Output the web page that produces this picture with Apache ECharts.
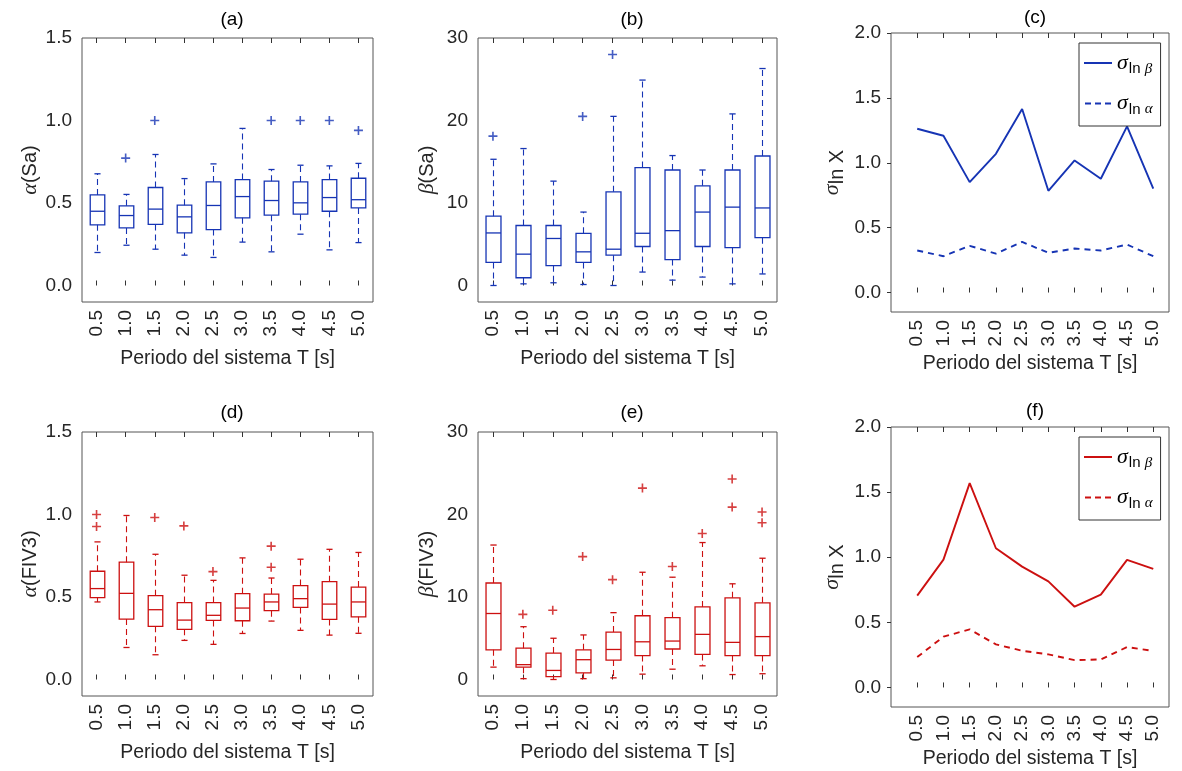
<!DOCTYPE html>
<html>
<head>
<meta charset="utf-8">
<script src="https://cdn.jsdelivr.net/npm/echarts@6/dist/echarts.min.js"></script>
<style>html,body{margin:0;padding:0;background:#fff}#c{width:1182px;height:771px}</style>
</head>
<body>
<div id="c"></div>
<script>
// ---------- data ----------
const categories = ['0.5','1.0','1.5','2.0','2.5','3.0','3.5','4.0','4.5','5.0'];
const periods = [0.5,1.0,1.5,2.0,2.5,3.0,3.5,4.0,4.5,5.0];
// box stats: [lowerWhisker, q1, median, q3, upperWhisker]
const boxA = [
  [0.20,0.368,0.45,0.549,0.677],[0.244,0.349,0.424,0.483,0.552],[0.22,0.37,0.463,0.594,0.794],
  [0.184,0.319,0.416,0.487,0.648],[0.17,0.339,0.485,0.628,0.737],[0.263,0.41,0.539,0.642,0.952],
  [0.204,0.426,0.515,0.632,0.703],[0.311,0.432,0.501,0.628,0.729],[0.216,0.45,0.533,0.642,0.725],
  [0.26,0.47,0.52,0.65,0.74]];
const outA = [[1,0.772],[2,1.0],[6,1.0],[7,1.0],[8,1.0],[9,0.94]];
const boxB = [
  [0,2.8,6.37,8.4,15.3],[0.2,0.94,3.8,7.27,16.6],[0.33,2.4,5.7,7.27,12.65],
  [0.12,2.8,4.08,6.33,8.9],[0,3.67,4.4,11.35,20.5],[1.63,4.73,6.33,14.3,24.9],
  [0.65,3.14,6.65,14.0,15.75],[1.02,4.73,8.9,12.08,14.0],[0.2,4.6,9.5,14.0,20.8],
  [1.4,5.8,9.4,15.7,26.3]];
const outB = [[0,18.1],[3,20.5],[4,28.0]];
const boxD = [
  [0.47,0.496,0.551,0.656,0.834],[0.194,0.366,0.522,0.711,0.994],[0.15,0.322,0.423,0.508,0.759],
  [0.237,0.304,0.36,0.466,0.632],[0.213,0.358,0.389,0.466,0.601],[0.279,0.356,0.433,0.52,0.737],
  [0.354,0.417,0.47,0.518,0.615],[0.298,0.437,0.49,0.569,0.729],[0.269,0.364,0.457,0.593,0.789],
  [0.28,0.38,0.47,0.56,0.77]];
const outD = [[0,1.0],[0,0.927],[2,0.982],[3,0.931],[4,0.654],[6,0.808],[6,0.68]];
const boxE = [
  [1.5,3.6,8.0,11.7,16.3],[0.1,1.5,1.8,3.8,6.4],[0,0.35,1.1,3.2,5.0],
  [0.1,0.8,2.4,3.6,5.4],[0.2,2.35,3.64,5.75,8.1],[0.65,2.9,4.57,7.73,13.0],
  [1.25,3.7,4.66,7.5,12.4],[1.66,3.04,5.47,8.8,16.6],[0.6,2.9,4.5,9.9,11.6],
  [0.7,2.9,5.2,9.3,14.7]];
const outE = [[1,7.9],[2,8.4],[3,14.9],[4,12.1],[5,23.2],[6,13.7],[7,17.7],[8,24.3],[8,20.9],[9,20.3],[9,19.0]];
// sigma ln values
const sigLnBetaC  = [1.262,1.208,0.851,1.069,1.414,0.784,1.018,0.877,1.28,0.80];
const sigLnAlphaC = [0.324,0.28,0.36,0.30,0.39,0.306,0.339,0.324,0.37,0.28];
const sigLnBetaF  = [0.705,0.982,1.569,1.069,0.928,0.815,0.62,0.713,0.98,0.91];
const sigLnAlphaF = [0.233,0.39,0.446,0.331,0.282,0.254,0.21,0.215,0.31,0.28];
const yTicksAlpha = [0,0.5,1.0,1.5];
const yTicksBeta = [0,10,20,30];
const yTicksSigma = [0,0.5,1.0,1.5,2.0];
const titles = ['(a)','(b)','(c)','(d)','(e)','(f)'];
const xName = 'Periodo del sistema T [s]';

// ---------- styling ----------
const BLUE = '#1634b4', RED = '#cc1010';
const FONT = 'Liberation Sans, Arial, sans-serif';
const TXT = '#262626', FRAME = '#555';
const TICKFS = 19;
const grids = [
  {left:82, top:38, width:291, height:264},
  {left:478, top:38, width:299, height:264},
  {left:891, top:33, width:278, height:279},
  {left:82, top:432, width:291, height:264},
  {left:478, top:432, width:299, height:264},
  {left:891, top:427, width:278, height:280}
].map(g => Object.assign(g, {show:true, borderColor:FRAME, borderWidth:1, backgroundColor:'transparent'}));

const greekRich = {
  g:{fontFamily:'Liberation Serif, DejaVu Serif, serif', fontStyle:'italic', fontSize:22, color:TXT, verticalAlign:'middle'},
  t:{fontFamily:FONT, fontSize:20, color:TXT, verticalAlign:'middle'},
  sub:{fontFamily:FONT, fontSize:15, color:'#000', padding:[12,0,0,1], verticalAlign:'middle'},
  subX:{fontFamily:FONT, fontSize:20, color:TXT, padding:[10,0,0,0], verticalAlign:'middle'},
  subg:{fontFamily:'Liberation Serif, DejaVu Serif, serif', fontStyle:'italic', fontSize:15, color:'#000', padding:[12,0,0,0], verticalAlign:'middle'}
};

function boxRenderer(color){
  return function(params, api){
    const i = api.value(0);
    const lo = api.value(1), q1 = api.value(2), md = api.value(3), q3 = api.value(4), hi = api.value(5);
    const band = api.size([1,0])[0];
    const bw = band*0.5, cw = bw*0.42;
    const x = Math.round(api.coord([i, md])[0]) + 0.5;
    const yLo = api.coord([i, lo])[1], yQ1 = api.coord([i, q1])[1], yMd = api.coord([i, md])[1];
    const yQ3 = api.coord([i, q3])[1], yHi = api.coord([i, hi])[1];
    const st = {stroke:color, lineWidth:1.3, fill:null};
    const dash = {stroke:color, lineWidth:1.1, lineDash:[6,4], fill:null};
    return {type:'group', children:[
      {type:'line', shape:{x1:x, y1:yQ3, x2:x, y2:yHi}, style:dash},
      {type:'line', shape:{x1:x, y1:yQ1, x2:x, y2:yLo}, style:dash},
      {type:'line', shape:{x1:x-cw/2, y1:yHi, x2:x+cw/2, y2:yHi}, style:st},
      {type:'line', shape:{x1:x-cw/2, y1:yLo, x2:x+cw/2, y2:yLo}, style:st},
      {type:'rect', shape:{x:x-bw/2, y:yQ3, width:bw, height:yQ1-yQ3}, style:st},
      {type:'line', shape:{x1:x-bw/2, y1:yMd, x2:x+bw/2, y2:yMd}, style:st}
    ]};
  };
}
const PLUS = 'path://M4.1,0H5.9V4.1H10V5.9H5.9V10H4.1V5.9H0V4.1H4.1Z';
const ICON_SOLID = 'path://M0,0H28V2H0Z';
const ICON_DASH = 'path://M0,0H6V2H0Z M10,0H16V2H10Z M20,0H26V2H20Z';

const xAxes = [], yAxes = [], series = [];
function catAxes(g){
  xAxes.push({type:'category', gridIndex:g, data:categories, boundaryGap:true,
    axisLine:{show:false}, axisTick:{show:true, alignWithLabel:true, inside:true, length:5, lineStyle:{color:'#333'}},
    axisLabel:{rotate:90, fontSize:TICKFS, color:TXT, margin:8, fontFamily:FONT},
    name:xName, nameLocation:'middle', nameGap:47, nameTextStyle:{fontSize:19.5, color:TXT, fontFamily:FONT}});
  xAxes.push({type:'category', gridIndex:g, position:'top', data:categories, boundaryGap:true,
    axisLine:{show:false}, axisTick:{show:true, alignWithLabel:true, inside:true, length:5, lineStyle:{color:'#333'}},
    axisLabel:{show:false}});
}
function valXAxes(g){
  xAxes.push({type:'value', gridIndex:g, min:0, max:5.3, splitLine:{show:false},
    axisLine:{show:false}, axisTick:{show:true, inside:true, length:5, customValues:periods, lineStyle:{color:'#333'}},
    axisLabel:{rotate:90, fontSize:TICKFS, color:TXT, margin:8, fontFamily:FONT, customValues:periods, formatter:v=>v.toFixed(1)},
    name:xName, nameLocation:'middle', nameGap:42, nameTextStyle:{fontSize:19.5, color:TXT, fontFamily:FONT}});
  xAxes.push({type:'value', gridIndex:g, position:'top', min:0, max:5.3, splitLine:{show:false},
    axisLine:{show:false}, axisTick:{show:true, inside:true, length:5, customValues:periods, lineStyle:{color:'#333'}},
    axisLabel:{show:false}});
}
function yAx(g, min, max, ticks, dec, name, gap, showTick){
  yAxes.push({type:'value', gridIndex:g, min:min, max:max, splitLine:{show:false},
    axisLine:{show:false},
    axisTick:{show:!!showTick, length:4, customValues:ticks, lineStyle:{color:'#333'}},
    axisLabel:{fontSize:TICKFS, color:TXT, margin:10, fontFamily:FONT, customValues:ticks, formatter:v=>v.toFixed(dec)},
    name:name, nameLocation:'middle', nameGap:gap, nameRotate:90,
    nameTextStyle:{fontSize:20, color:TXT, fontFamily:FONT, rich:greekRich}});
}

const boxPanels = [
  {g:0, box:boxA, out:outA, color:BLUE, min:-0.1, max:1.5, ticks:yTicksAlpha, dec:1, name:'{g|α}{t|(Sa)}'},
  {g:1, box:boxB, out:outB, color:BLUE, min:-2, max:30, ticks:yTicksBeta, dec:0, name:'{g|β}{t|(Sa)}'},
  {g:3, box:boxD, out:outD, color:RED, min:-0.1, max:1.5, ticks:yTicksAlpha, dec:1, name:'{g|α}{t|(FIV3)}'},
  {g:4, box:boxE, out:outE, color:RED, min:-2, max:30, ticks:yTicksBeta, dec:0, name:'{g|β}{t|(FIV3)}'}
];
const linePanels = [
  {g:2, beta:sigLnBetaC, alpha:sigLnAlphaC, color:BLUE, nb:'c_b', na:'c_a'},
  {g:5, beta:sigLnBetaF, alpha:sigLnAlphaF, color:RED, nb:'f_b', na:'f_a'}
];
for (let g = 0; g < 6; g++){
  const bp = boxPanels.find(p => p.g === g);
  if (bp){
    catAxes(g);
    yAx(g, bp.min, bp.max, bp.ticks, bp.dec, bp.name, 40, false);
  } else {
    valXAxes(g);
    yAx(g, -0.15, 2.0, yTicksSigma, 1, '{g|σ}{subX|ln X}', 44, true);
  }
}
boxPanels.forEach(p => {
  series.push({type:'custom', xAxisIndex:p.g*2, yAxisIndex:p.g, renderItem:boxRenderer(p.color),
    encode:{x:0, y:[1,2,3,4,5]}, data:p.box.map((b,i)=>[i].concat(b)), silent:true, z:2});
  series.push({type:'scatter', xAxisIndex:p.g*2, yAxisIndex:p.g, symbol:PLUS, symbolSize:9,
    itemStyle:{color:p.color}, data:p.out, silent:true, z:3});
});
linePanels.forEach(p => {
  series.push({type:'line', name:p.nb, xAxisIndex:p.g*2, yAxisIndex:p.g, symbol:'none', showSymbol:false,
    lineStyle:{color:p.color, width:1.9, type:'solid'}, itemStyle:{color:p.color},
    data:periods.map((x,i)=>[x,p.beta[i]])});
  series.push({type:'line', name:p.na, xAxisIndex:p.g*2, yAxisIndex:p.g, symbol:'none', showSymbol:false,
    lineStyle:{color:p.color, width:1.9, type:[6,5]}, itemStyle:{color:p.color},
    data:periods.map((x,i)=>[x,p.alpha[i]])});
});

const legendNames = {c_b:'b', c_a:'a', f_b:'b', f_a:'a'};
function legendFmt(n){
  return legendNames[n] === 'b' ? '{g|σ}{sub|ln }{subg|β}' : '{g|σ}{sub|ln }{subg|α}';
}
const legendBase = {orient:'vertical', formatter:legendFmt, itemWidth:28, itemHeight:2, itemGap:16,
  padding:[9,8,9,5], borderColor:'#333', borderWidth:1, backgroundColor:'#fff', selectedMode:false,
  textStyle:{rich:Object.assign({}, greekRich, {g:Object.assign({}, greekRich.g, {color:'#000'})})}};

const titleCenters = [[227,5],[627,5],[1030,3],[227,398],[627,398],[1030,396]];
const option = {
  animation:false,
  backgroundColor:'#fff',
  grid:grids,
  title:titles.map((t,i)=>({text:t, left:titleCenters[i][0], top:titleCenters[i][1], textAlign:'center',
    textStyle:{fontSize:19, fontWeight:'normal', color:'#000', fontFamily:FONT}})),
  legend:[
    Object.assign({}, legendBase, {left:1079, top:43, data:[{name:'c_b', icon:ICON_SOLID},{name:'c_a', icon:ICON_DASH}]}),
    Object.assign({}, legendBase, {left:1079, top:437, data:[{name:'f_b', icon:ICON_SOLID},{name:'f_a', icon:ICON_DASH}]})
  ],
  xAxis:xAxes, yAxis:yAxes, series:series
};
const chart = echarts.init(document.getElementById('c'), null, {renderer:'canvas'});
chart.setOption(option);
</script>
</body>
</html>
